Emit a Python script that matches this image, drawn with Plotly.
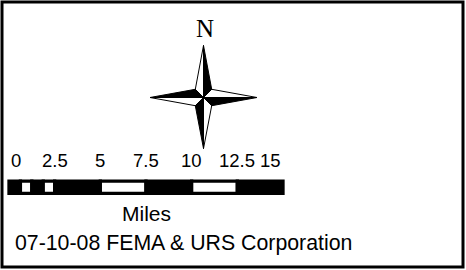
import plotly.graph_objects as go

# ---- data ----
scale_ticks = [0, 2.5, 5, 7.5, 10, 12.5, 15]
tick_labels = ["0", "2.5", "5", "7.5", "10", "12.5", "15"]
segment_edges = [0, 0.625, 1.25, 1.875, 2.5, 5, 7.5, 10, 12.5, 15]
segment_colors = ["black", "white", "black", "white", "black", "white", "black", "white", "black"]
unit_label = "Miles"
credit_text = "07-10-08 FEMA & URS Corporation"
north_label = "N"

# ---- geometry / layout parameters (pixel space) ----
W, H = 466, 270
px_per_mile = 274 / 15.0
bar_left_px = 9
m0 = -bar_left_px / px_per_mile
m1 = m0 + W / px_per_mile

cx, cy = 203.5, 97.5          # compass centre
arm = {"N": 52, "S": 51, "E": 53.5, "W": 53.5}
k = 8.2                       # inner corner offset

tips = {"N": (cx, cy - arm["N"]), "S": (cx, cy + arm["S"]),
        "E": (cx + arm["E"], cy), "W": (cx - arm["W"], cy)}
corners = {"NE": (cx + k, cy - k), "NW": (cx - k, cy - k),
           "SE": (cx + k, cy + k), "SW": (cx - k, cy + k)}
black_tris = [("N", "NE"), ("E", "SE"), ("S", "SW"), ("W", "NW")]
white_tris = [("N", "NW"), ("E", "NE"), ("S", "SE"), ("W", "SW")]


def tri_path(pairs):
    xs, ys = [], []
    for t, c in pairs:
        pts = [tips[t], (cx, cy), corners[c], tips[t]]
        xs += [p[0] for p in pts] + [None]
        ys += [p[1] for p in pts] + [None]
    return xs, ys


fig = go.Figure()

starts = segment_edges[:-1]
widths = [b - a for a, b in zip(segment_edges[:-1], segment_edges[1:])]
fig.add_trace(go.Bar(
    orientation="h", y=[187.2] * len(widths), x=widths, base=starts,
    width=12.3, marker=dict(color=segment_colors, line=dict(color="black", width=3.3)),
    xaxis="x", yaxis="y", showlegend=False, hoverinfo="skip"))

for pairs, col in [(white_tris, "white"), (black_tris, "black")]:
    xs, ys = tri_path(pairs)
    fig.add_trace(go.Scatter(x=xs, y=ys, mode="lines", fill="toself", fillcolor=col,
                             line=dict(color="black", width=1), xaxis="x2", yaxis="y",
                             showlegend=False, hoverinfo="skip"))

sans = "Liberation Sans, Arial, sans-serif"
ann = []
for i, (v, lab) in enumerate(zip(scale_ticks, tick_labels)):
    xa = "left" if i == 0 else ("right" if i == len(scale_ticks) - 1 else "center")
    ann.append(dict(x=v, y=160, xref="x", yref="y", text=lab, showarrow=False,
                    xanchor=xa, yanchor="middle", font=dict(family=sans, size=18.5, color="black")))
ann.append(dict(x=7.5, y=213, xref="x", yref="y", text=unit_label, showarrow=False,
                xanchor="center", yanchor="middle", font=dict(family=sans, size=21, color="black")))
ann.append(dict(x=13, y=242.5, xref="x2", yref="y", text=credit_text, showarrow=False,
                xanchor="left", yanchor="middle", font=dict(family=sans, size=21.3, color="black")))
ann.append(dict(x=205, y=28.5, xref="x2", yref="y", text=north_label, showarrow=False,
                xanchor="center", yanchor="middle",
                font=dict(family="Liberation Serif, Times New Roman, serif", size=25, color="black")))

fig.update_layout(
    width=W, height=H, autosize=False, margin=dict(l=0, r=0, t=0, b=0),
    paper_bgcolor="white", plot_bgcolor="white",
    xaxis=dict(range=[m0, m1], visible=False, domain=[0, 1], fixedrange=True),
    xaxis2=dict(range=[0, W], visible=False, overlaying="x", fixedrange=True),
    yaxis=dict(range=[H, 0], visible=False, domain=[0, 1], fixedrange=True),
    annotations=ann, barmode="overlay",
    shapes=[dict(type="rect", xref="paper", yref="paper",
                 x0=2 / W, x1=463 / W, y0=1 - 2 / H, y1=1 - 267 / H,
                 line=dict(color="black", width=3), fillcolor="rgba(0,0,0,0)")],
)

fig.write_html("out.html", config={"displayModeBar": False},
               post_script="document.body.style.margin='0';document.body.style.overflow='hidden';")
